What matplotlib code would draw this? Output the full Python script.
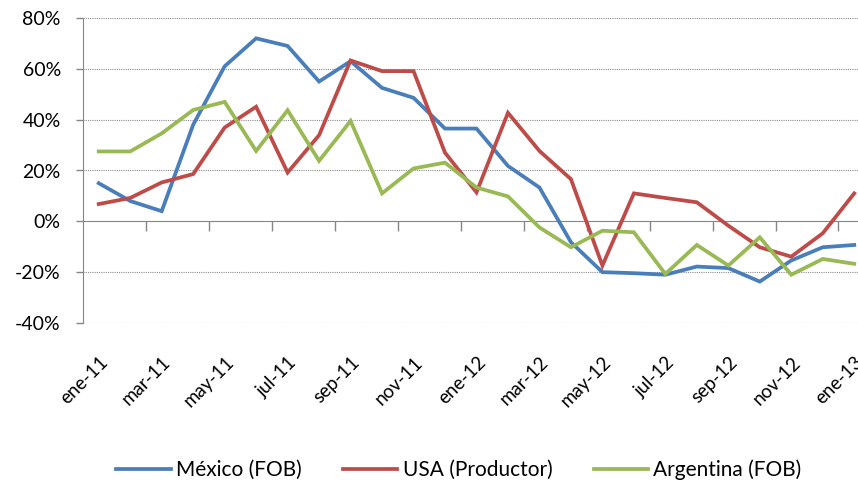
import matplotlib
matplotlib.use('Agg')
import matplotlib.pyplot as plt
from matplotlib.ticker import FuncFormatter

months = ['ene-11', 'feb-11', 'mar-11', 'abr-11', 'may-11', 'jun-11', 'jul-11', 'ago-11',
          'sep-11', 'oct-11', 'nov-11', 'dic-11', 'ene-12', 'feb-12', 'mar-12', 'abr-12',
          'may-12', 'jun-12', 'jul-12', 'ago-12', 'sep-12', 'oct-12', 'nov-12', 'dic-12',
          'ene-13']

mexico = [15, 8, 4, 38, 61, 72, 69, 55, 63, 52.5, 48.6, 36.5, 36.5, 21.8, 13.3, -8.2,
          -20, -20.4, -21, -17.8, -18.4, -23.7, -15.4, -10.2, -9.3]
usa = [6.8, 9.2, 15.3, 18.6, 36.9, 45.1, 19.2, 33.9, 63.3, 59.1, 59.1, 27, 11.4, 42.7,
       27.7, 16.6, -17.4, 11, 9.2, 7.5, -1.7, -10.2, -13.9, -4.7, 11]
argentina = [27.5, 27.5, 34.6, 43.8, 47, 27.7, 43.7, 23.8, 39.5, 11, 20.8, 23.1, 13.3,
             9.8, -2.4, -10.2, -3.7, -4.3, -20.7, -9.3, -17.4, -6.3, -21, -14.8, -16.7]


def main():
    plt.rcParams['font.family'] = ['Lato', 'DejaVu Sans']
    fig = plt.figure(figsize=(8.58, 4.86), dpi=100)
    ax = fig.add_axes([83 / 858, 1 - 323 / 486, 1 - 83 / 858, 305 / 486])

    x = list(range(len(months)))
    ax.plot(x, mexico, color='#4A7EBB', lw=2.7, label='México (FOB)', solid_joinstyle='miter')
    ax.plot(x, usa, color='#BE4B48', lw=2.7, label='USA (Productor)', solid_joinstyle='miter')
    ax.plot(x, argentina, color='#98B954', lw=2.7, label='Argentina (FOB)', solid_joinstyle='miter')

    ax.set_ylim(-40, 80)
    ax.set_xlim(-0.5, 24.12)
    ax.set_yticks(range(-40, 81, 20))
    ax.yaxis.set_major_formatter(FuncFormatter(lambda v, p: f'{v:.0f}%'))
    ax.tick_params(axis='y', labelsize=14, length=5, width=1, color='#868686', pad=11)

    # dotted grid, solid axis at 0
    for v in range(-40, 81, 20):
        if v != 0:
            ax.axhline(v, color='#8c8c8c', lw=0.8, ls=(0, (1, 1)), zorder=0)
    for s in ['top', 'right']:
        ax.spines[s].set_visible(False)
    ax.spines['bottom'].set_position(('data', 0))
    ax.spines['bottom'].set_color('#868686')
    ax.spines['left'].set_color('#868686')
    ax.spines['bottom'].set_zorder(0)

    ax.set_xticks([i + 0.5 for i in range(1, len(months), 2)])
    ax.set_xticklabels([])
    ax.tick_params(axis='x', length=7, width=1, color='#868686')

    trans = ax.get_xaxis_transform()
    for i in range(0, len(months), 2):
        ax.text(i + 0.2, -0.12, months[i], transform=trans, rotation=45,
                ha='right', va='center', rotation_mode='anchor', fontsize=13.5)

    fig.legend(loc='center', bbox_to_anchor=(0.535, 16 / 486), ncol=3, frameon=False,
               fontsize=15, handlelength=2.6, handletextpad=0.25, columnspacing=2.0)

    fig.savefig('out.png', dpi=100, facecolor='white')


if __name__ == '__main__':
    main()
